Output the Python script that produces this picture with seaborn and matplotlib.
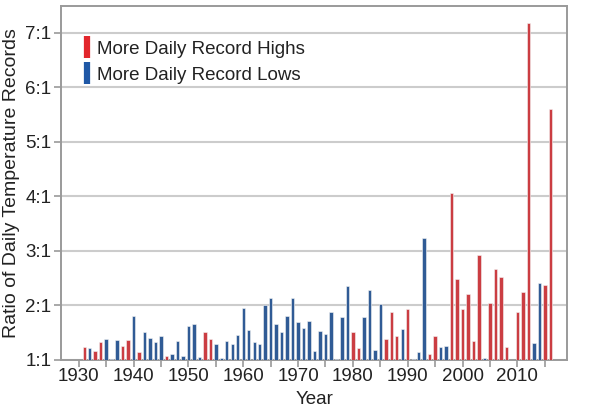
import matplotlib
matplotlib.use("Agg")
import matplotlib.pyplot as plt
from matplotlib.lines import Line2D
from matplotlib.ticker import MultipleLocator, FixedLocator, FuncFormatter
import seaborn as sns
import pandas as pd

# values (ratio n:1), H = more highs, L = more lows
years = [1931, 1932, 1933, 1934, 1935, 1936, 1937, 1938, 1939, 1940,
         1941, 1942, 1943, 1944, 1945, 1946, 1947, 1948, 1949, 1950,
         1951, 1952, 1953, 1954, 1955, 1956, 1957, 1958, 1959, 1960,
         1961, 1962, 1963, 1964, 1965, 1966, 1967, 1968, 1969, 1970,
         1971, 1972, 1973, 1974, 1975, 1976, 1977, 1978, 1979, 1980,
         1981, 1982, 1983, 1984, 1985, 1986, 1987, 1988, 1989, 1990,
         1991, 1992, 1993, 1994, 1995, 1996, 1997, 1998, 1999, 2000,
         2001, 2002, 2003, 2004, 2005, 2006, 2007, 2008, 2010,
         2011, 2012, 2013, 2014, 2015, 2016]
ratios = [1.24, 1.21, 1.17, 1.33, 1.38, 1.02, 1.37, 1.26, 1.37, 1.81,
          1.14, 1.51, 1.40, 1.32, 1.44, 1.08, 1.10, 1.34, 1.07, 1.62,
          1.65, 1.05, 1.52, 1.39, 1.30, 1.04, 1.35, 1.30, 1.45, 1.95,
          1.54, 1.32, 1.29, 2.00, 2.14, 1.66, 1.51, 1.80, 2.14, 1.70,
          1.58, 1.71, 1.16, 1.53, 1.48, 1.88, 1.02, 1.78, 2.36, 1.52,
          1.21, 1.78, 2.28, 1.18, 2.03, 1.38, 1.87, 1.43, 1.56, 1.93,
          1.02, 1.14, 3.24, 1.10, 1.43, 1.23, 1.25, 4.05, 2.48, 1.93,
          2.21, 1.35, 2.92, 1.04, 2.04, 2.67, 2.51, 1.24, 1.88,
          2.25, 7.18, 1.31, 2.41, 2.38, 5.59]
kind = list("HLHHLLLHHL"
            "HLLLLHLLLL"
            "LLHHLLLLLL"
            "LLLLLLLLLL"
            "LLLLLLLLLH"
            "HLLLLHHHLH"
            "LLLHHLLHHH"
            "HHHLHHHH"
            "HHHLLHH")

labels_hi = "More Daily Record Highs"
labels_lo = "More Daily Record Lows"
red = "#e2262c"
blue = "#1f58a6"

df = pd.DataFrame({"Year": years, "Ratio": ratios, "kind": kind})

sns.set_style("white")
plt.rcParams["font.family"] = ["Liberation Sans", "DejaVu Sans"]
fs = 13.5

fig = plt.figure(figsize=(6, 4.17), dpi=100)
ax = fig.add_axes([0.102, 0.137, 0.8435, 0.849])

sns.barplot(data=df, x="Year", y="Ratio", hue="kind", native_scale=True,
            palette={"H": red, "L": blue}, dodge=False, width=0.62,
            edgecolor="#f4f4f4", linewidth=0.4, legend=False, ax=ax, zorder=3)

ax.set_xlim(1926.8, 2019.1)
ax.set_ylim(1, 7.49)

ax.yaxis.set_major_locator(MultipleLocator(1))
ax.yaxis.set_major_formatter(FuncFormatter(lambda v, p: f"{int(round(v))}:1"))
ax.xaxis.set_major_locator(FixedLocator(list(range(1930, 2020, 10))))
ax.xaxis.set_minor_locator(FixedLocator(list(range(1935, 2020, 10))))
ax.xaxis.set_major_formatter(FuncFormatter(lambda v, p: f"{int(v)}"))

ax.yaxis.grid(True, color="#cccccc", linewidth=1.5, zorder=0)
ax.xaxis.grid(False)
for s in ax.spines.values():
    s.set_color("#9a9a9a")
    s.set_linewidth(1.4)

ax.tick_params(axis="both", which="both", direction="out", color="#9a9a9a",
               width=1.2, labelsize=fs, labelcolor="#222222")
ax.tick_params(axis="x", which="both", length=5, pad=1, bottom=True)
ax.tick_params(axis="y", length=5, pad=2, left=True)

ax.set_xlabel("Year", fontsize=fs, color="#222222", labelpad=4)
ax.set_ylabel("Ratio of Daily Temperature Records", fontsize=14, color="#222222", labelpad=4)

handles = [Line2D([], [], marker="|", linestyle="none", color=red, markersize=16, markeredgewidth=4.5),
           Line2D([], [], marker="|", linestyle="none", color=blue, markersize=16, markeredgewidth=4.5)]
ax.legend(handles, [labels_hi, labels_lo], loc="upper left", bbox_to_anchor=(0.008, 0.95),
          frameon=False, fontsize=fs, handlelength=0.5, handletextpad=0.3, labelspacing=0.5,
          labelcolor="#222222")

fig.savefig("out.png", dpi=100)
